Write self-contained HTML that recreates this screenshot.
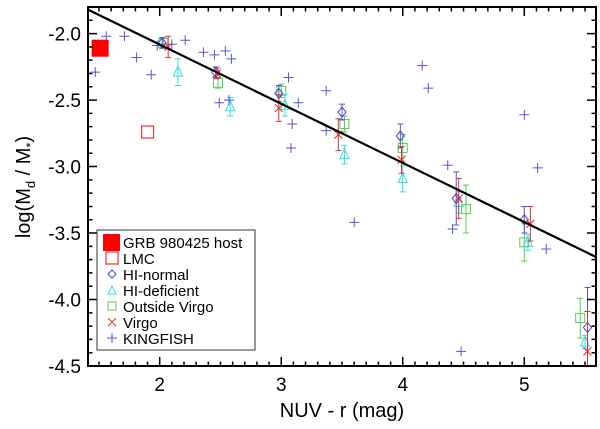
<!DOCTYPE html>
<html><head><meta charset="utf-8"><style>
html,body{margin:0;padding:0;background:#fff}
svg{display:block;font-family:"Liberation Sans",sans-serif}
</style></head><body>
<svg id="chart" width="600" height="429" viewBox="0 0 600 429" xmlns="http://www.w3.org/2000/svg">
<g id="marks"></g>
<g id="axes"></g>
<text x="342" y="417" font-size="20" text-anchor="middle">NUV - r (mag)</text>
<text transform="translate(30,187) rotate(-90)" font-size="20" text-anchor="middle">log(M<tspan font-size="13" dy="5">d</tspan><tspan dy="-5"> / M</tspan><tspan font-size="13" dy="5">*</tspan><tspan dy="-5">)</tspan></text>
<g>
<rect x="97" y="230" width="158" height="120" fill="#fff" stroke="#333" stroke-width="1"/>
<rect x="103" y="234" width="17" height="17" fill="#f00"/>
<text x="123" y="248" font-size="15">GRB 980425 host</text>
<rect x="106" y="252" width="12" height="12" fill="none" stroke="#e33" stroke-width="1.2"/>
<text x="123" y="264" font-size="15">LMC</text>
<path d="M112 270 L116 274 L112 278 L108 274 Z" fill="none" stroke="#44c"/>
<text x="123" y="280" font-size="15">HI-normal</text>
<path d="M112 286 L116 294 L108 294 Z" fill="none" stroke="#3dd"/>
<text x="123" y="296" font-size="15">HI-deficient</text>
<rect x="108" y="302" width="8" height="8" fill="none" stroke="#5c5"/>
<text x="123" y="312" font-size="15">Outside Virgo</text>
<path d="M108 318 L116 326 M116 318 L108 326" stroke="#e33"/>
<text x="123" y="328" font-size="15">Virgo</text>
<path d="M112 333 L112 343 M107 338 L117 338" stroke="#55d"/>
<text x="123" y="344" font-size="15">KINGFISH</text>
</g>
</svg>
<script>
const xTicks=[2,3,4,5];
const yTicks=[-2.0,-2.5,-3.0,-3.5,-4.0,-4.5];
const fitLine=[[1.41,-1.82],[5.59,-3.68]];
const grbX=[1.51], grbY=[-2.11];
const lmcX=[1.90], lmcY=[-2.74];
const normX=[2.02,2.46,2.98,3.50,3.98,4.44,5.00,5.52];
const normY=[-2.07,-2.29,-2.45,-2.59,-2.77,-3.24,-3.40,-4.21];
const normE=[0.04,0.04,0.06,0.06,0.09,0.2,0.1,0.3];
const defX=[2.15,2.58,3.03,3.52,4.00,4.46,5.03,5.50];
const defY=[-2.29,-2.55,-2.54,-2.91,-3.09,-3.27,-3.57,-4.32];
const defE=[0.1,0.07,0.08,0.07,0.1,0.08,0.06,0.05];
const outX=[2.03,2.48,3.00,3.52,4.00,4.52,5.00,5.46];
const outY=[-2.07,-2.37,-2.43,-2.68,-2.86,-3.32,-3.57,-4.14];
const outE=[0.04,0.04,0.05,0.06,0.1,0.18,0.14,0.15];
const virX=[2.07,2.47,2.98,3.47,3.99,4.46,5.05,5.52];
const virY=[-2.10,-2.30,-2.56,-2.76,-2.95,-3.24,-3.43,-4.39];
const virE=[0.08,0.04,0.1,0.12,0.1,0.15,0.13,0.3];
const kfX=[1.47,1.56,1.71,1.81,1.93,1.98,2.10,2.21,2.36,2.45,2.54,2.59,2.49,2.57,3.06,3.14,3.09,3.08,3.37,3.37,3.60,4.16,4.21,4.37,4.41,4.48,5.11,5.18,5.00];
const kfY=[-2.29,-2.02,-2.02,-2.18,-2.31,-2.09,-2.08,-2.05,-2.14,-2.16,-2.13,-2.19,-2.52,-2.50,-2.33,-2.52,-2.68,-2.86,-2.43,-2.73,-3.42,-2.24,-2.41,-2.99,-3.47,-4.39,-3.01,-3.62,-2.61];

const L=88,R=596,T=7,B=366;
const X0=1.41,X1=5.59,Y0=-4.50,Y1=-1.80;
const sx=v=>L+(v-X0)/(X1-X0)*(R-L);
const sy=v=>B-(v-Y0)/(Y1-Y0)*(B-T);
const NS="http://www.w3.org/2000/svg";
const marks=document.getElementById('marks'), axes=document.getElementById('axes');
function mk(tag,attrs,parent){const e=document.createElementNS(NS,tag);for(const k in attrs)e.setAttribute(k,attrs[k]);parent.appendChild(e);return e;}

// clip
const defs=mk('defs',{},marks);const cp=mk('clipPath',{id:'clip'},defs);mk('rect',{x:L,y:T,width:R-L,height:B-T},cp);
const g=mk('g',{'clip-path':'url(#clip)'},marks);

function errbar(x,y,e,color){
  const p=mk('path',{d:`M${sx(x)} ${sy(y-e)} L${sx(x)} ${sy(y+e)} M${sx(x)-3} ${sy(y-e)} L${sx(x)+3} ${sy(y-e)} M${sx(x)-3} ${sy(y+e)} L${sx(x)+3} ${sy(y+e)}`,stroke:color,'stroke-width':1,fill:'none'},g);
  
  
}
outX.forEach((x,i)=>{errbar(x,outY[i],outE[i],'#5c5');
  const e=mk('rect',{x:sx(x)-4.5,y:sy(outY[i])-4.5,width:9,height:9,fill:'none',stroke:'#5c5'},g);
  
  });
defX.forEach((x,i)=>{errbar(x,defY[i],defE[i],'#3dd');const cx=sx(x),cy=sy(defY[i]);
  const e=mk('path',{d:`M${cx} ${cy-6} L${cx+4.5} ${cy+4} L${cx-4.5} ${cy+4} Z`,fill:'none',stroke:'#3dd'},g);
  
  });
normX.forEach((x,i)=>{errbar(x,normY[i],normE[i],'#55c');const cx=sx(x),cy=sy(normY[i]);
  const e=mk('path',{d:`M${cx} ${cy-5} L${cx+4} ${cy} L${cx} ${cy+5} L${cx-4} ${cy} Z`,fill:'none',stroke:'#44c'},g);
  
  });
virX.forEach((x,i)=>{errbar(x,virY[i],virE[i],'#d33');const cx=sx(x),cy=sy(virY[i]);
  const e=mk('path',{d:`M${cx-4} ${cy-4} L${cx+4} ${cy+4} M${cx+4} ${cy-4} L${cx-4} ${cy+4}`,stroke:'#e22'},g);
  
  });
kfX.forEach((x,i)=>{const cx=sx(x),cy=sy(kfY[i]);
  const e=mk('path',{d:`M${cx-5} ${cy} L${cx+5} ${cy} M${cx} ${cy-5} L${cx} ${cy+5}`,stroke:'#55d'},g);
  
  });
lmcX.forEach((x,i)=>{const e=mk('rect',{x:sx(x)-6,y:sy(lmcY[i])-6,width:12,height:12,fill:'none',stroke:'#e33','stroke-width':1.2},g);
  
  });
grbX.forEach((x,i)=>{const e=mk('rect',{x:sx(x)-8.5,y:sy(grbY[i])-8.5,width:17,height:17,fill:'#f00'},g);
  
  });
const fl=mk('line',{x1:sx(fitLine[0][0]),y1:sy(fitLine[0][1]),x2:sx(fitLine[1][0]),y2:sy(fitLine[1][1]),stroke:'#000','stroke-width':2.2},g);



// axes box
const box=mk('rect',{x:L,y:T,width:R-L,height:B-T,fill:'none',stroke:'#000','stroke-width':2},axes);


let d='';
for(let k=15;k<=55;k++){const v=k/10;const x=sx(v);const len=(k%10==0)?9:4.5;d+=`M${x} ${B} L${x} ${B-len} M${x} ${T} L${x} ${T+len} `;}
for(let k=-45;k<=-18;k++){const v=k/10;const y=sy(v);const len=(k%5==0)?9:4.5;d+=`M${L} ${y} L${L+len} ${y} M${R} ${y} L${R-len} ${y} `;}
mk('path',{d:d,stroke:'#000','stroke-width':1.5},axes);
xTicks.forEach(v=>{const t=mk('text',{x:sx(v),y:B+25,'font-size':19,'text-anchor':'middle'},axes);t.textContent=String(v);
  
  });
yTicks.forEach(v=>{const t=mk('text',{x:L-7,y:sy(v)+7,'font-size':19,'text-anchor':'end'},axes);t.textContent=v.toFixed(1);
  
  });
</script>
</body></html>
